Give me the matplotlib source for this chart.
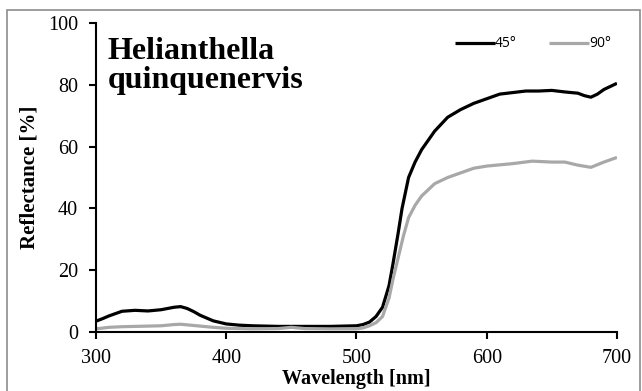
import matplotlib
matplotlib.use("Agg")
import matplotlib.pyplot as plt
from matplotlib.patches import Rectangle

# Reflectance spectra of Helianthella quinquenervis at two viewing angles
wl_45 = [300, 305, 310, 320, 330, 340, 350, 360, 365, 370, 375, 380, 390, 400, 410, 420,
         440, 460, 480, 500, 505, 510, 515, 520, 525, 528, 532, 535, 540, 545, 550,
         560, 570, 580, 590, 600, 610, 620, 630, 640, 650, 660, 670, 675, 680, 685,
         690, 700]
refl_45 = [3.5, 4.3, 5.2, 6.7, 7.0, 6.8, 7.2, 8.0, 8.2, 7.6, 6.6, 5.4, 3.6, 2.6, 2.2, 2.0,
           1.8, 1.8, 1.8, 2.0, 2.4, 3.2, 5.0, 8.0, 15.0, 22.0, 32.0, 40.0, 50.0, 55.0, 59.0,
           65.0, 69.5, 72.0, 74.0, 75.5, 77.0, 77.5, 78.0, 78.0, 78.2, 77.7, 77.3, 76.5, 76.0,
           77.0, 78.5, 80.5]

wl_90 = [300, 310, 320, 330, 340, 350, 360, 365, 370, 380, 390, 400, 420, 440, 450, 460,
         480, 500, 505, 510, 515, 520, 525, 528, 532, 536, 540, 545, 550, 555, 560, 570,
         580, 590, 600, 620, 635, 650, 660, 670, 680, 690, 700]
refl_90 = [1.0, 1.5, 1.7, 1.8, 1.9, 2.0, 2.4, 2.5, 2.3, 1.9, 1.5, 1.2, 1.0, 1.1, 1.5, 1.1,
           1.0, 1.0, 1.3, 2.0, 3.0, 5.0, 11.0, 17.0, 24.0, 31.0, 37.0, 41.0, 44.0, 46.0, 48.0,
           50.0, 51.5, 53.0, 53.7, 54.5, 55.3, 55.0, 55.0, 54.0, 53.3, 55.0, 56.5]

x_ticks = [300, 400, 500, 600, 700]
y_ticks = [0, 20, 40, 60, 80, 100]
series_labels = ["45°", "90°"]
species = "Helianthella\nquinquenervis"

serif = "Liberation Serif"

fig = plt.figure(figsize=(6.42, 3.91), dpi=100)
ax = fig.add_axes([0.1495, 0.151, 0.8115, 0.790])

ax.plot(wl_45, refl_45, color="black", lw=2.3, solid_capstyle="butt", label=series_labels[0])
ax.plot(wl_90, refl_90, color="#a8a8a8", lw=2.3, solid_capstyle="butt", label=series_labels[1])

ax.set_xlim(300, 700)
ax.set_ylim(0, 100)
ax.set_xticks(x_ticks)
ax.set_yticks(y_ticks)
for s in ["top", "right"]:
    ax.spines[s].set_visible(False)
for s in ["left", "bottom"]:
    ax.spines[s].set_linewidth(1.5)
ax.tick_params(direction="out", length=5, width=1.5, labelsize=14.5)
ax.tick_params(axis="x", pad=7)
ax.tick_params(axis="y", pad=8)
for lab in ax.get_xticklabels() + ax.get_yticklabels():
    lab.set_fontfamily(serif)

ax.set_xlabel("Wavelength [nm]", fontfamily=serif, fontweight="bold", fontsize=14.5, labelpad=1)
ax.set_ylabel("Reflectance [%]", fontfamily=serif, fontweight="bold", fontsize=15, labelpad=6)

ax.text(0.022, 0.955, species, transform=ax.transAxes, ha="left", va="top",
        fontfamily=serif, fontweight="bold", fontsize=23, linespacing=1.02)

leg = ax.legend(loc="upper right", bbox_to_anchor=(1.012, 0.997), ncol=2, frameon=False,
                handlelength=2.9, handletextpad=0.0, columnspacing=2.3,
                prop={"family": "Open Sans", "size": 10})

# outer frame around the chart
fig.patches.append(Rectangle((7 / 642, -0.05), (640 - 7) / 642, 1 - 10 / 391 + 0.05,
                             transform=fig.transFigure, fill=False,
                             edgecolor="#8c8c8c", lw=1.2))

fig.savefig("out.png", dpi=100)
